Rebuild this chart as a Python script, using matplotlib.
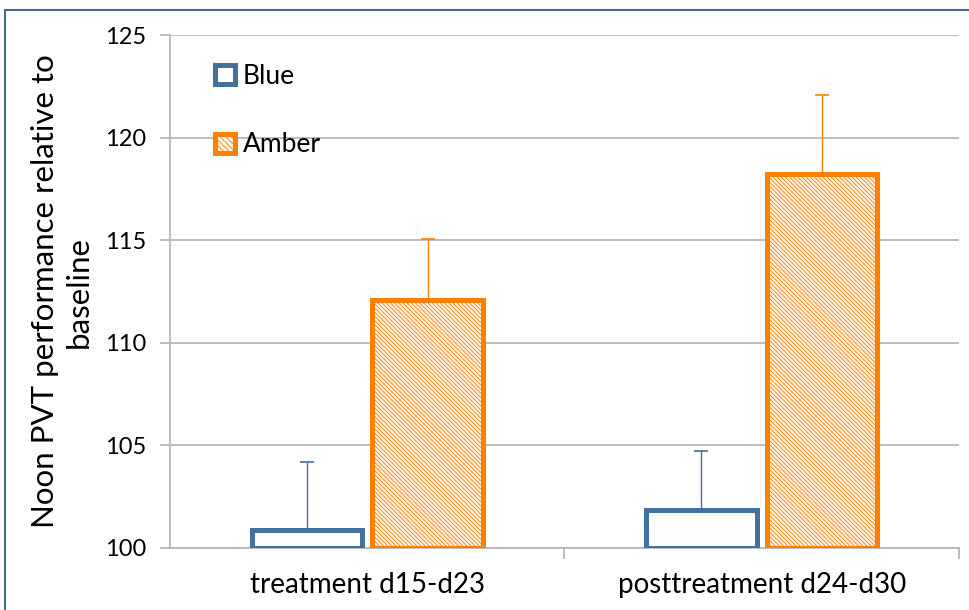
import numpy as np
import matplotlib.pyplot as plt
from matplotlib.patches import Patch, Rectangle

categories = ['treatment d15-d23', 'posttreatment d24-d30']
series = ['Blue', 'Amber']
blue_vals = [100.9, 101.85]
blue_err = [3.3, 2.9]
amber_vals = [112.1, 118.25]
amber_err = [2.95, 3.85]
yticks = [100, 105, 110, 115, 120, 125]

blue_c = '#44709d'
orange_c = '#ff8000'

plt.rcParams['font.family'] = ['Lato', 'DejaVu Sans']
plt.rcParams['hatch.linewidth'] = 0.6
plt.rcParams['hatch.color'] = '#fcb47a'

fig = plt.figure(figsize=(9.7, 6.1), dpi=100)
ax = fig.add_axes([170/970, 1-548/610, (959-170)/970, (548-35)/610])

# frame round the picture
fig.patches.append(Rectangle((5/970, -0.1), 1.1, 1-10/610+0.1, transform=fig.transFigure,
                             fill=False, edgecolor='#4a6a8c', linewidth=1.5))

x = np.arange(len(categories))
w = 0.28
off = 0.153
ax.bar(x - off, np.array(blue_vals) - 100, w, bottom=100, facecolor='white',
       edgecolor=blue_c, linewidth=3.6, zorder=3, label=series[0])
ax.bar(x + off, np.array(amber_vals) - 100, w, bottom=100, facecolor='#fff3e8',
       edgecolor=orange_c, linewidth=3.6, hatch='\\\\\\\\\\\\\\\\', zorder=3, label=series[1])
ax.errorbar(x - off, blue_vals, yerr=[np.zeros(2), blue_err], fmt='none',
            ecolor=blue_c, elinewidth=1, capsize=5, capthick=1.2, zorder=2)
ax.errorbar(x + off, amber_vals, yerr=[np.zeros(2), amber_err], fmt='none',
            ecolor=orange_c, elinewidth=1, capsize=5, capthick=1.2, zorder=2)

ax.set_ylim(100, 125)
ax.set_xlim(-0.5, 1.5)
ax.set_yticks(yticks)
ax.yaxis.grid(True, color='#b8b8b8', linewidth=1.3)
ax.set_axisbelow(True)
for s in ['top', 'right']:
    ax.spines[s].set_visible(False)
for s in ['left', 'bottom']:
    ax.spines[s].set_color('#b8b8b8')
    ax.spines[s].set_linewidth(1.3)
ax.tick_params(axis='y', length=7, width=1.3, color='#b8b8b8', labelsize=17, pad=10)
ax.set_xticks([0.5, 1.5])
ax.set_xticklabels([])
ax.tick_params(axis='x', length=8, width=1.3, color='#b8b8b8')
ax.set_xticks(x, minor=True)
ax.set_xticklabels(categories, minor=True, fontsize=20)
ax.tick_params(axis='x', which='minor', length=0, pad=17)

ax.set_ylabel('Noon PVT performance relative to\nbaseline', fontsize=22.5, labelpad=9,
              linespacing=1.25)

handles = [Patch(facecolor='white', edgecolor=blue_c, linewidth=3.6),
           Patch(facecolor='#fff3e8', edgecolor=orange_c, linewidth=3.6, hatch='\\\\\\\\\\\\')]
ax.legend(handles, series, loc='upper left', bbox_to_anchor=(0.027, 0.99), frameon=False,
          fontsize=19, handlelength=0.75, handleheight=0.75, handletextpad=0.3,
          labelspacing=1.65)

fig.savefig('out.png', dpi=100)
